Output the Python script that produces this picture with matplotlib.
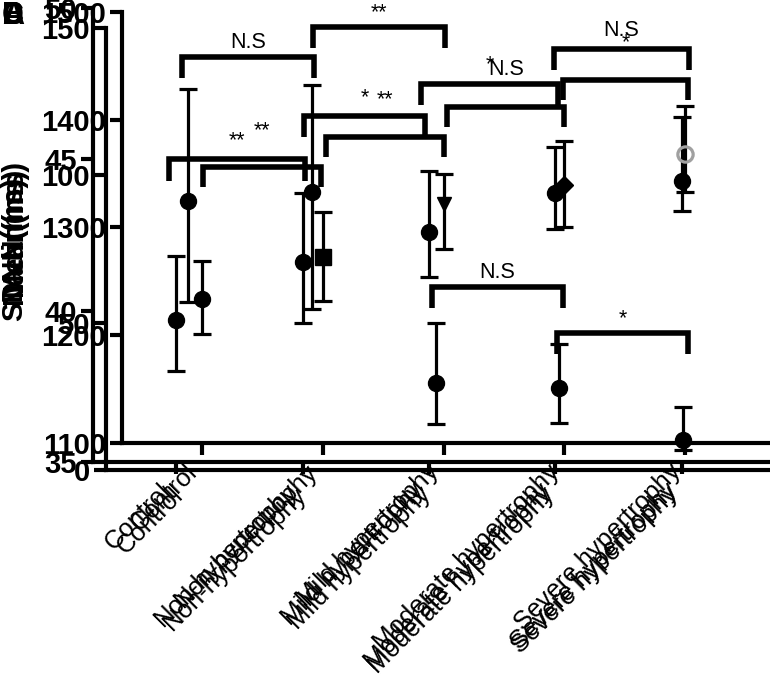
import numpy as np
import matplotlib.pyplot as plt

plt.rcParams['font.family'] = ['Liberation Sans', 'DejaVu Sans']

W, H = 770, 686

groups = ["Control", "Non-hypertrophy", "Mild hypertrophy",
          "Moderate hypertrophy", "Severe hypertrophy"]

# panel A: mean (ms)
mean_ms = [1234, 1273, 1322, 1339, 1368]
mean_hi = [1269, 1314, 1350, 1380, 1413]
mean_lo = [1201, 1232, 1280, 1300, 1333]

# panel B: 0-150 scale
sdnn = [91.3, 94.4, 29.5, 27.8, 10.2]
sdnn_hi = [129.3, 130.7, 49.9, 42.6, 21.4]
sdnn_lo = [57.0, 54.7, 15.6, 16.0, 6.8]

# panel C: 35-50 scale
nadir = [39.7, 41.6, 42.6, 43.9, 44.3]
nadir_hi = [41.8, 43.9, 44.6, 45.4, 46.4]
nadir_lo = [38.0, 39.6, 41.1, 42.7, 43.3]

# significance brackets: (from, to, height, label)
brk_A = [(0.01, 0.99, 1356, "**"), (1.03, 2.0, 1384, "**"),
         (2.03, 3.0, 1412, "N.S"), (2.99, 4.02, 1437, "*")]
brk_B = [(-0.05, 1.02, 140.2, "N.S"), (1.01, 2.08, 150.3, "**"),
         (1.97, 3.03, 62.1, "N.S"), (2.98, 4.04, 46.5, "*")]
brk_C = [(-0.06, 1.02, 45.0, "**"), (1.01, 1.97, 46.43, "*"),
         (1.94, 3.02, 47.49, "*"), (2.99, 4.06, 48.65, "N.S")]

fig = plt.figure(figsize=(W / 100, H / 100), dpi=100)


def make_ax(l, t, r, b):
    return fig.add_axes([l / W, (H - b) / H, (r - l) / W, (b - t) / H])


def style(ax, ylim, yticks, xlen=8.5, xpad=3.5):
    ax.set_xlim(-0.66, 4.70)
    ax.set_ylim(*ylim)
    ax.set_yticks(yticks)
    ax.patch.set_visible(False)
    ax.spines['top'].set_visible(False)
    ax.spines['right'].set_visible(False)
    ax.spines['left'].set_linewidth(3)
    ax.spines['bottom'].set_linewidth(3)
    ax.tick_params(axis='y', width=3, length=8.5, labelsize=21, pad=3)
    ax.tick_params(axis='x', width=3, length=xlen, pad=xpad)
    for t in ax.get_yticklabels():
        t.set_fontweight('bold')
    ax.set_xticks(range(5))
    ax.set_xticklabels(groups, rotation=45, ha='right', fontsize=18.5)


def brackets(ax, brk, off):
    lo, hi = ax.get_ylim()
    leg = 0.047 * (hi - lo)
    for x0, x1, y, lab in brk:
        ax.plot([x0, x0, x1, x1], [y - leg, y, y, y - leg], color='k', lw=4,
                solid_joinstyle='miter', solid_capstyle='butt', clip_on=False)
        ax.annotate(lab, ((x0 + x1) / 2, y), xytext=(0, off),
                    textcoords='offset points', ha='center', va='bottom',
                    fontsize=15.5, annotation_clip=False)


x = np.arange(5)
eb = dict(fmt='none', ecolor='k', elinewidth=2.3, capsize=6.5, capthick=2.3, clip_on=False)

# panel C
axC = make_ax(93, 8, 770, 462)
style(axC, (35, 50), [35, 40, 45, 50])
axC.errorbar(x, nadir, yerr=[np.subtract(nadir, nadir_lo), np.subtract(nadir_hi, nadir)], **eb)
axC.plot(x, nadir, 'o', color='k', ms=11.5, ls='none')
brackets(axC, brk_C, 6)

# panel B
axB = make_ax(106, 28, 770, 470)
style(axB, (0, 150), [0, 50, 100, 150], xlen=0, xpad=9)
axB.errorbar(x, sdnn, yerr=[np.subtract(sdnn, sdnn_lo), np.subtract(sdnn_hi, sdnn)], **eb)
axB.plot(x, sdnn, 'o', color='k', ms=11.5, ls='none', clip_on=False)
brackets(axB, brk_B, 3)

# panel A
axA = make_ax(122, 12, 770, 443)
style(axA, (1100, 1500), [1100, 1200, 1300, 1400, 1500])
axA.errorbar(x, mean_ms, yerr=[np.subtract(mean_ms, mean_lo), np.subtract(mean_hi, mean_ms)], **eb)
marks = ['o', 's', 'v', 'D', 'o']
sizes = [11.5, 12, 10, 9, 11]
for i in range(5):
    if i == 4:
        axA.plot(x[i], mean_ms[i], marks[i], mfc='none', mec='#a0a0a0', mew=2.3, ms=sizes[i])
    else:
        axA.plot(x[i], mean_ms[i], marks[i], color='k', ms=sizes[i])
brackets(axA, brk_A, 19)

# overlapping axis titles and panel letters
for lab, yc in [("Mean(ms)", 228), ("SDNN(ms)", 249), ("Nadir(ms)", 236)]:
    fig.text(14 / W, 1 - yc / H, lab, rotation=90, ha='center', va='center',
             fontsize=21, fontweight='bold')
for letter in "ABCD":
    fig.text(2 / W, 1 - 16 / H, letter, ha='left', va='center',
             fontsize=22, fontweight='bold')

fig.savefig('out.png', dpi=100)
